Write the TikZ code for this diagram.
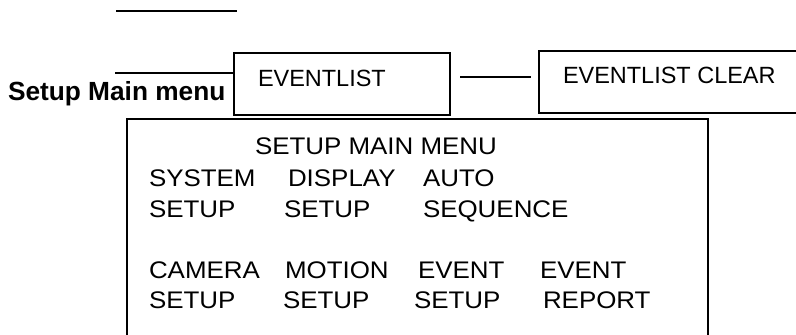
\documentclass[tikz,border=0pt]{standalone}
\usepackage{fontspec}
\setmainfont{Liberation Sans}
\newfontfamily\menufont{Liberation Sans}[FakeStretch=1.08]
\tikzset{every picture/.style={line width=1.5pt}}
\tikzset{
  menuword/.style={anchor=base west, inner sep=0pt, font=\menufont\fontsize{18}{20}\selectfont},
  boxword/.style={anchor=base west, inner sep=0pt, font=\fontsize{17.6}{20}\selectfont},
  menubox/.style={draw, rectangle, inner sep=0pt, minimum width=162pt, minimum height=46.5pt},
}
\begin{document}
\begin{tikzpicture}[x=0.75pt,y=0.75pt,yscale=-1,xscale=1]
\useasboundingbox (0,0) rectangle (796,335);

% Boxes
\node [menubox] (evlist) at (342,84) {};
\coordinate (clearw) at (539,77);
\draw (796,51) -- (539,51) -- (539,113) -- (796,113) ;
\draw (127,335) -- (127,119) -- (708,119) -- (708,335) ;

% Lines
\draw (116,11) -- (237,11) ;
\coordinate (lefte) at (115,72.7);
\draw (lefte) -- (lefte -| evlist.west) ;
\draw [shorten <=6.75pt, shorten >=6pt] (evlist.east |- clearw) -- (clearw) ;

% Text Node
\node [anchor=base west, inner sep=0pt, font=\bfseries\fontsize{19.7}{22}\selectfont] (smm) at (7,100) {Setup Main menu};
% Text Node
\node [boxword] (evlisttxt) at (257,87) {EVENTLIST};
% Text Node
\node [boxword] (evclear) at (562,84) {EVENTLIST CLEAR};

% Menu text
\node [menuword] (mtitle) at (254,154) {SETUP MAIN MENU};
\node [menuword] (sys) at (148,186) {SYSTEM};
\node [menuword] (disp) at (287,186) {DISPLAY};
\node [menuword] (auto) at (422,186) {AUTO};
\node [menuword] (syss) at (148,217) {SETUP};
\node [menuword] (disps) at (283,217) {SETUP};
\node [menuword] (autos) at (422,217) {SEQUENCE};
\node [menuword] (cam) at (148,278) {CAMERA};
\node [menuword] (mot) at (284,278) {MOTION};
\node [menuword] (evt) at (417,278) {EVENT};
\node [menuword] (evr) at (539,278) {EVENT};
\node [menuword] (cams) at (148,308) {SETUP};
\node [menuword] (mots) at (282,308) {SETUP};
\node [menuword] (evts) at (413,308) {SETUP};
\node [menuword] (evrr) at (542,308) {REPORT};

\end{tikzpicture}
\end{document}
